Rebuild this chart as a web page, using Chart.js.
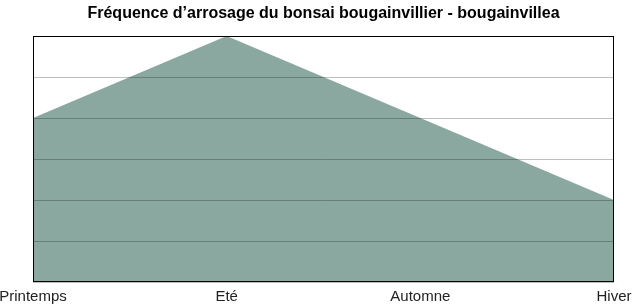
<!DOCTYPE html>
<html>
<head>
<meta charset="utf-8">
<script src="https://cdn.jsdelivr.net/npm/chart.js@4"></script>
<style>
html,body{margin:0;padding:0;background:#fff;}
#wrap{width:632px;height:307px;}
</style>
</head>
<body>
<div id="wrap"><canvas id="c" width="632" height="307"></canvas></div>
<script>
const categories = ["Printemps", "Eté", "Automne", "Hiver"];
const frequence = [4, 6, 4, 2];
const yMin = 0, yMax = 6, yStep = 1;
const titleText = "Fréquence d\u2019arrosage du bonsai bougainvillier - bougainvillea";

const frame = {
  id: 'frame',
  afterDraw(chart) {
    const a = chart.chartArea, ctx = chart.ctx;
    ctx.save();
    ctx.strokeStyle = '#000';
    ctx.lineWidth = 1;
    ctx.strokeRect(Math.round(a.left) + 0.5, Math.round(a.top) + 0.5,
                   Math.round(a.right - a.left) - 1, Math.round(a.bottom - a.top) - 1);
    ctx.restore();
  }
};

new Chart(document.getElementById('c'), {
  type: 'line',
  data: {
    labels: categories,
    datasets: [{
      data: frequence,
      fill: 'origin',
      backgroundColor: '#8ba8a0',
      borderWidth: 0,
      borderColor: 'rgba(0,0,0,0)',
      pointRadius: 0,
      tension: 0
    }]
  },
  options: {
    responsive: false,
    animation: false,
    layout: { padding: { left: 33, right: 18, top: 0, bottom: 0 } },
    plugins: {
      legend: { display: false },
      tooltip: { enabled: false },
      title: {
        display: true,
        text: titleText,
        color: '#000',
        font: { family: '"Liberation Sans", Arial, sans-serif', size: 16, weight: 'bold' },
        padding: { top: 4, bottom: 12.8 }
      }
    },
    scales: {
      x: {
        offset: false,
        grid: { display: false, drawTicks: false },
        border: { display: false },
        afterFit(scale) { scale.paddingLeft = 0; scale.paddingRight = 0; scale.height = 25; },
        ticks: {
          autoSkip: false,
          maxRotation: 0,
          padding: 6,
          color: '#222',
          font: { family: '"Liberation Sans", Arial, sans-serif', size: 15 }
        }
      },
      y: {
        min: yMin, max: yMax,
        afterFit(scale) { scale.width = 0; scale.paddingTop = 0; scale.paddingBottom = 0; },
        ticks: { display: false, stepSize: yStep },
        grid: { color: 'rgba(0,0,0,0.25)', lineWidth: 1, drawTicks: false, z: 1 },
        border: { display: false }
      }
    }
  },
  plugins: [frame]
});
</script>
</body>
</html>
